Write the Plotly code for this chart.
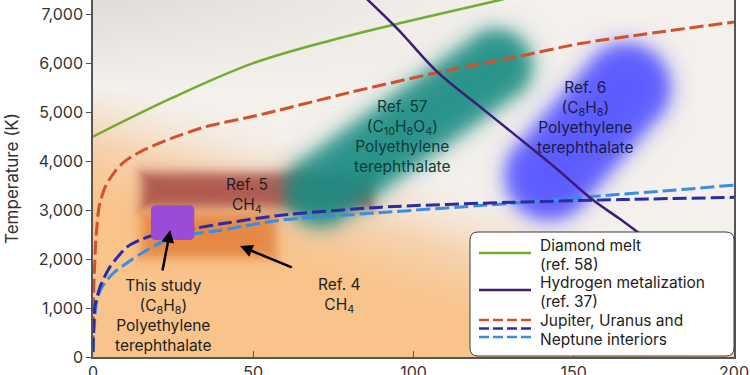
import numpy as np
import plotly.graph_objects as go

# ---------------- data ----------------
pressure_ticks = [0, 50, 100, 150, 200]
temp_ticks = [0, 1000, 2000, 3000, 4000, 5000, 6000, 7000]

diamond_P = [0, 25, 50, 75, 100, 125, 135]
diamond_T = [4500, 5300, 6000, 6480, 6880, 7260, 7420]

hydrogen_P = [84, 95, 107.5, 120, 131, 144, 156, 164, 176]
hydrogen_T = [7400, 6700, 5816, 5150, 4571, 3880, 3204, 2837, 2250]

jupiter_P = [0, 0.3, 1, 2, 4, 7, 10, 15, 23, 35, 49, 58, 80, 108, 130, 152, 175, 200]
jupiter_T = [150, 1500, 2500, 3100, 3500, 3800, 4000, 4200, 4430, 4700, 4900, 5040, 5400, 5816, 6100, 6400, 6620, 6840]

uranus_P = [0, 0.6, 2.2, 5.3, 10.6, 15, 19, 25, 32, 40, 58, 90, 131, 165, 200]
uranus_T = [100, 1020, 1430, 1840, 2245, 2400, 2490, 2560, 2630, 2720, 2890, 3060, 3160, 3215, 3260]

neptune_P = [0, 1.2, 3, 6.3, 10.6, 14.7, 23, 31, 40, 58, 90, 131, 158, 180, 200]
neptune_T = [100, 1160, 1450, 1710, 1918, 2100, 2390, 2510, 2590, 2790, 2950, 3140, 3290, 3400, 3510]

# experimental regions
ref5_P = [15, 87]
ref5_T = [3060, 3775]
ref4_P = [15, 57]
ref4_T = [2040, 2940]
study_P = [18.1, 31.6]
study_T = [2390, 3100]
ref57_axis_P = [70.9, 125.6]
ref57_axis_T = [3408, 5959]
ref6_axis_P = [142.2, 166.25]
ref6_axis_T = [3714, 5510]

# ---------------- geometry helpers ----------------
P_MAX, T_MAX = 200, 7290
L, R, B, TOP = 93, 16, 18, 0
W, H = 750, 375
PLOT_W = W - L - R
PLOT_H = H - B - TOP
SX = PLOT_W / P_MAX          # px per pressure unit
ST = PLOT_H / T_MAX          # px per K


def fx(px):
    return (px - L) / PLOT_W


def fy(py):
    return (H - B - py) / PLOT_H


def grid_around(p_lo, p_hi, t_lo, t_hi, pad_px=30, step_px=2):
    ps = np.arange(p_lo - pad_px / SX, p_hi + pad_px / SX, step_px / SX)
    ts = np.arange(t_lo - pad_px / ST, t_hi + pad_px / ST, step_px / ST)
    return ps, ts


def rect_alpha(p_rng, t_rng, soft):
    ps, ts = grid_around(p_rng[0], p_rng[1], t_rng[0], t_rng[1])
    PP, TT = np.meshgrid(ps * SX, ts * ST)
    x0, x1 = p_rng[0] * SX, p_rng[1] * SX
    y0, y1 = t_rng[0] * ST, t_rng[1] * ST
    dx = np.maximum(x0 - PP, PP - x1)
    dy = np.maximum(y0 - TT, TT - y1)
    outside = np.sqrt(np.maximum(dx, 0) ** 2 + np.maximum(dy, 0) ** 2)
    inside = np.minimum(np.maximum(dx, dy), 0)
    d = outside + inside
    return ps, ts, 1.0 / (1.0 + np.exp(d / soft))


def capsule_alpha(axis_p, axis_t, radius_px, soft):
    ps, ts = grid_around(min(axis_p), max(axis_p), min(axis_t), max(axis_t), pad_px=radius_px + 25)
    PP, TT = np.meshgrid(ps * SX, ts * ST)
    ax, ay = axis_p[0] * SX, axis_t[0] * ST
    bx, by = axis_p[1] * SX, axis_t[1] * ST
    vx, vy = bx - ax, by - ay
    t = ((PP - ax) * vx + (TT - ay) * vy) / (vx * vx + vy * vy)
    t = np.clip(t, 0, 1)
    d = np.hypot(PP - (ax + t * vx), TT - (ay + t * vy)) - radius_px
    return ps, ts, 1.0 / (1.0 + np.exp(d / soft))


def blob_trace(ps, ts, z, rgb, alpha):
    r, g, b = rgb
    return go.Heatmap(
        x=ps, y=ts, z=np.round(z, 3), zmin=0, zmax=1, zsmooth="best",
        colorscale=[[0, f"rgba({r},{g},{b},0)"], [1, f"rgba({r},{g},{b},{alpha})"]],
        showscale=False, hoverinfo="skip",
    )


fig = go.Figure()

# ---------------- background gradient ----------------
bg_P = np.linspace(0, 200, 41)
bg_T = np.linspace(0, 7400, 38)
BP, BT = np.meshgrid(bg_P, bg_T)
s = BT / 1000 + BP / 50
u = np.clip((s - 2.9) / 3.0, 0, 1)
u = u * u * (3 - 2 * u)
g = np.clip((BT - 5500) / 1800, 0, 1) * np.clip(1 - BP / 130, 0, 1)
bg_z = 0.6 * u + 0.4 * g * u
fig.add_trace(go.Heatmap(
    x=bg_P, y=bg_T, z=np.round(bg_z, 3), zmin=0, zmax=1, zsmooth="best",
    colorscale=[[0, "#F9C48B"], [0.3, "#F5D3B0"], [0.6, "#F4F0EC"], [1, "#E0DBD6"]],
    showscale=False, hoverinfo="skip",
))

# ---------------- blurred experimental regions ----------------
ps, ts, z = rect_alpha(ref5_P, ref5_T, 3.5)
fig.add_trace(blob_trace(ps, ts, z, (166, 74, 68), 0.88))
ps, ts, z = rect_alpha(ref4_P, ref4_T, 3.5)
fig.add_trace(blob_trace(ps, ts, z, (224, 122, 52), 0.82))
ps, ts, z = capsule_alpha(ref57_axis_P, ref57_axis_T, 36, 5.5)
fig.add_trace(blob_trace(ps, ts, z, (26, 140, 130), 0.93))
ps, ts, z = capsule_alpha(ref6_axis_P, ref6_axis_T, 44, 5.5)
fig.add_trace(blob_trace(ps, ts, z, (86, 86, 255), 0.96))

# ---------------- curves ----------------
DASH = "14px,5px"
fig.add_trace(go.Scatter(x=diamond_P, y=diamond_T, mode="lines", name="Diamond melt (ref. 58)",
                         line=dict(color="#72AE2E", width=2.5, shape="spline"), showlegend=False, hoverinfo="skip"))
fig.add_trace(go.Scatter(x=jupiter_P, y=jupiter_T, mode="lines", name="Jupiter",
                         line=dict(color="#D2502A", width=3, dash=DASH, shape="spline", smoothing=0.7),
                         showlegend=False, hoverinfo="skip"))
fig.add_trace(go.Scatter(x=neptune_P, y=neptune_T, mode="lines", name="Neptune",
                         line=dict(color="#3A8EE2", width=3, dash=DASH, shape="spline", smoothing=0.7),
                         showlegend=False, hoverinfo="skip"))
fig.add_trace(go.Scatter(x=uranus_P, y=uranus_T, mode="lines", name="Uranus",
                         line=dict(color="#2B2BA8", width=3, dash=DASH, shape="spline", smoothing=0.7),
                         showlegend=False, hoverinfo="skip"))
fig.add_trace(go.Scatter(x=hydrogen_P, y=hydrogen_T, mode="lines", name="Hydrogen metalization (ref. 37)",
                         line=dict(color="#3D1D78", width=2.5, shape="spline"), showlegend=False, hoverinfo="skip"))

shapes = []
# this study square (rounded)
rx, ry = 5 / SX, 5 / ST
x0, x1 = study_P
y0, y1 = study_T
shapes.append(dict(
    type="path", xref="x", yref="y", layer="above",
    path=(f"M {x0+rx},{y0} L {x1-rx},{y0} Q {x1},{y0} {x1},{y0+ry} L {x1},{y1-ry} "
          f"Q {x1},{y1} {x1-rx},{y1} L {x0+rx},{y1} Q {x0},{y1} {x0},{y1-ry} "
          f"L {x0},{y0+ry} Q {x0},{y0} {x0+rx},{y0} Z"),
    fillcolor="#9A4BD8", line=dict(width=0),
))

# ---------------- legend drawn by hand ----------------
lx0, lx1 = fx(470), fx(734)
ly0, ly1 = fy(356), fy(232)
lrx, lry = 8 / PLOT_W, 8 / PLOT_H
shapes.append(dict(
    type="path", xref="paper", yref="paper", layer="above",
    path=(f"M {lx0+lrx},{ly0} L {lx1-lrx},{ly0} Q {lx1},{ly0} {lx1},{ly0+lry} L {lx1},{ly1-lry} "
          f"Q {lx1},{ly1} {lx1-lrx},{ly1} L {lx0+lrx},{ly1} Q {lx0},{ly1} {lx0},{ly1-lry} "
          f"L {lx0},{ly0+lry} Q {lx0},{ly0} {lx0+lrx},{ly0} Z"),
    fillcolor="white", line=dict(color="#3A3A3A", width=1),
))
legend_lines = [
    (253, "#72AE2E", "solid"),
    (290, "#3D1D78", "solid"),
    (320, "#D2502A", "10px,4px"),
    (328.5, "#2B2BA8", "10px,4px"),
    (337, "#3A8EE2", "10px,4px"),
]
for py, col, dash in legend_lines:
    shapes.append(dict(type="line", xref="paper", yref="paper", layer="above",
                       x0=fx(479), x1=fx(531), y0=fy(py), y1=fy(py),
                       line=dict(color=col, width=2.5, dash=dash)))

annotations = []
legend_texts = [
    (245, "Diamond melt"), (264, "(ref. 58)"),
    (282, "Hydrogen metalization"), (301, "(ref. 37)"),
    (320, "Jupiter, Uranus and"), (339, "Neptune interiors"),
]
for py, txt in legend_texts:
    annotations.append(dict(xref="paper", yref="paper", x=fx(538), y=fy(py), text=txt,
                            showarrow=False, xanchor="left", yanchor="middle",
                            font=dict(size=15.5, color="#222222")))

# ---------------- labels ----------------
LAB = dict(size=15.5, color="#222222")
annotations += [
    dict(x=48, y=3300, text="Ref. 5<br>CH<sub>4</sub>", showarrow=False, font=LAB),
    dict(x=76.6, y=1250, text="Ref. 4<br>CH<sub>4</sub>", showarrow=False, font=LAB),
    dict(x=21.9, y=840, text="This study<br>(C<sub>8</sub>H<sub>8</sub>)<br>Polyethylene<br>terephthalate",
         showarrow=False, font=LAB),
    dict(x=96.6, y=4500,
         text="Ref. 57<br>(C<sub>10</sub>H<sub>8</sub>O<sub>4</sub>)<br>Polyethylene<br>terephthalate",
         showarrow=False, font=dict(size=15.5, color="#0E3B37")),
    dict(x=153.75, y=4900, text="Ref. 6<br>(C<sub>8</sub>H<sub>8</sub>)<br>Polyethylene<br>terephthalate",
         showarrow=False, font=dict(size=15.5, color="#1A1A48")),
    # arrows
    dict(x=24.1, y=2592, ax=21.6, ay=1735, axref="x", ayref="y", text="", showarrow=True,
         arrowhead=2, arrowsize=1, arrowwidth=2.5, arrowcolor="#000000"),
    dict(x=45.9, y=2265, ax=62.5, ay=1816, axref="x", ayref="y", text="", showarrow=True,
         arrowhead=2, arrowsize=1, arrowwidth=2.5, arrowcolor="#000000"),
]

fig.update_layout(
    width=W, height=H,
    margin=dict(l=L, r=R, t=TOP, b=B),
    paper_bgcolor="white", plot_bgcolor="white",
    font=dict(family="Inter, Noto Sans, sans-serif", color="#333333"),
    shapes=shapes, annotations=annotations,
    showlegend=False,
)
fig.update_xaxes(
    range=[0, P_MAX], tickvals=pressure_ticks, ticktext=[str(v) for v in pressure_ticks],
    ticks="inside", ticklen=6, tickcolor="#555555", showgrid=False, zeroline=False, automargin=False,
    showline=True, linecolor="#555555", linewidth=1.5, tickfont=dict(size=16, color="#333333"),
)
fig.update_yaxes(
    range=[0, T_MAX], tickvals=temp_ticks, ticktext=[f"{v:,}" for v in temp_ticks],
    ticks="outside", ticklen=5, tickcolor="#555555", showgrid=False, zeroline=False, automargin=False,
    showline=True, mirror=True, linecolor="#555555", linewidth=1.5,
    tickfont=dict(size=16, color="#333333"),
    title=dict(text="Temperature (K)", font=dict(size=17, color="#333333"), standoff=16),
)

fig.write_html("out.html", config={"displayModeBar": False},
               post_script="document.body.style.margin='0';")
